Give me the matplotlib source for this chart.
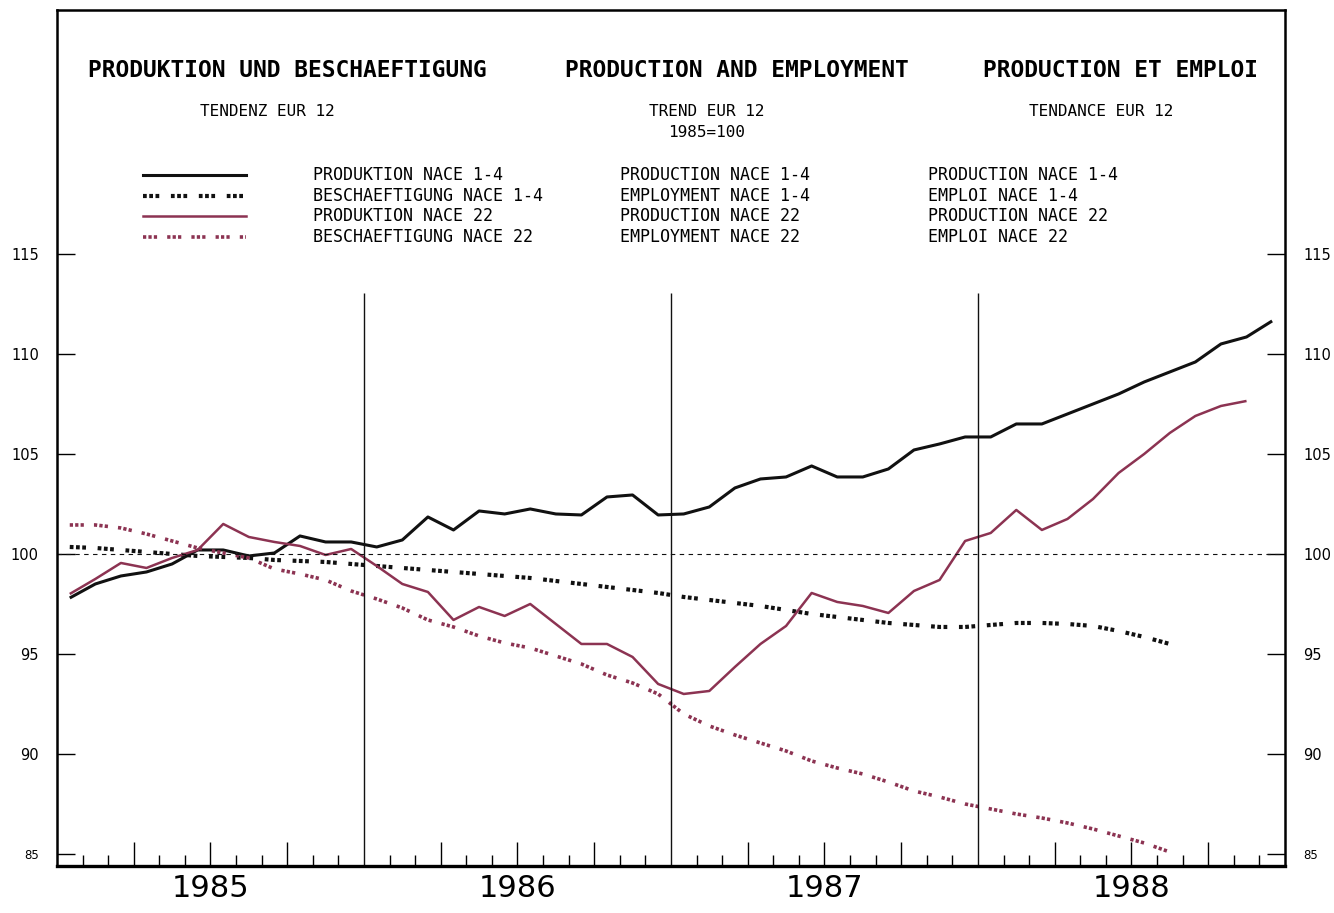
import numpy as np
import matplotlib
matplotlib.use("Agg")
import matplotlib.pyplot as plt
from matplotlib.ticker import FixedLocator

# monthly values, Jan 1985 onwards (1985=100)
prod_14 = [97.8, 98.5, 98.9, 99.1, 99.5, 100.2, 100.2, 99.9, 100.05, 100.9, 100.6, 100.6,
           100.35, 100.7, 101.85, 101.2, 102.15, 102.0, 102.25, 102.0, 101.95, 102.85, 102.95, 101.95,
           102.0, 102.35, 103.3, 103.75, 103.85, 104.4, 103.85, 103.85, 104.25, 105.2, 105.5, 105.85,
           105.85, 106.5, 106.5, 107.0, 107.5, 108.0, 108.6, 109.1, 109.6, 110.5, 110.85, 111.65]
empl_14 = [100.35, 100.3, 100.2, 100.1, 100.0, 99.9, 99.85, 99.8, 99.7, 99.65, 99.6, 99.5,
           99.4, 99.3, 99.2, 99.1, 99.0, 98.9, 98.8, 98.65, 98.5, 98.35, 98.2, 98.05,
           97.85, 97.7, 97.55, 97.4, 97.2, 97.0, 96.85, 96.7, 96.55, 96.45, 96.35, 96.35,
           96.45, 96.55, 96.55, 96.5, 96.4, 96.15, 95.85, 95.5]
prod_22 = [98.0, 98.75, 99.55, 99.3, 99.8, 100.2, 101.5, 100.85, 100.6, 100.4, 99.95, 100.25,
           99.4, 98.5, 98.1, 96.7, 97.35, 96.9, 97.5, 96.5, 95.5, 95.5, 94.85, 93.5,
           93.0, 93.15, 94.35, 95.5, 96.4, 98.05, 97.6, 97.4, 97.05, 98.15, 98.7, 100.65,
           101.05, 102.2, 101.2, 101.75, 102.75, 104.05, 105.0, 106.05, 106.9, 107.4, 107.65]
empl_22 = [101.45, 101.45, 101.3, 101.0, 100.65, 100.3, 100.05, 99.8, 99.25, 99.0, 98.7, 98.15,
           97.75, 97.3, 96.7, 96.35, 95.9, 95.55, 95.3, 94.9, 94.5, 93.95, 93.55, 93.0,
           92.0, 91.4, 90.95, 90.55, 90.15, 89.65, 89.3, 89.0, 88.6, 88.15, 87.85, 87.5,
           87.25, 87.0, 86.8, 86.55, 86.25, 85.9, 85.55, 85.1]

years = ["1985", "1986", "1987", "1988"]
yticks = [85, 90, 95, 100, 105, 110, 115]

titles = ["PRODUKTION UND BESCHAEFTIGUNG", "PRODUCTION AND EMPLOYMENT", "PRODUCTION ET EMPLOI"]
subtitles = ["TENDENZ EUR 12", "TREND EUR 12\n1985=100", "TENDANCE EUR 12"]
legend_de = ["PRODUKTION NACE 1-4", "BESCHAEFTIGUNG NACE 1-4", "PRODUKTION NACE 22", "BESCHAEFTIGUNG NACE 22"]
legend_en = ["PRODUCTION NACE 1-4", "EMPLOYMENT NACE 1-4", "PRODUCTION NACE 22", "EMPLOYMENT NACE 22"]
legend_fr = ["PRODUCTION NACE 1-4", "EMPLOI NACE 1-4", "PRODUCTION NACE 22", "EMPLOI NACE 22"]

black = "#111111"
crimson = "#8c3352"
dotted = (0, (0.9, 0.6, 0.9, 0.6, 0.9, 2.8))

fig = plt.figure(figsize=(13.34, 9.13), dpi=100)
ax = fig.add_axes([0.0427, 0.0515, 0.9205, 0.9376])

styles = [
    (prod_14, dict(color=black, lw=2.2, ls="-")),
    (empl_14, dict(color=black, lw=3.0, ls=dotted)),
    (prod_22, dict(color=crimson, lw=1.8, ls="-")),
    (empl_22, dict(color=crimson, lw=2.6, ls=dotted)),
]
for vals, st in styles:
    x = np.arange(len(vals)) + 0.5
    ax.plot(x, vals, solid_capstyle="butt", **st)

nmonths = 12 * len(years)
ax.set_xlim(0, nmonths)
ax.set_ylim(84.4, 127.2)

# reference line and year separators
ax.axhline(100, color=black, lw=0.8, ls=(0, (4, 4)))
for k in range(1, len(years)):
    ax.vlines(12 * k, 84.4, 113.05, color=black, lw=1.0)

# x ticks: quarters long, months short, years under mid-year
quarters = [m for m in range(1, nmonths) if m % 3 == 0 and m % 12 != 0]
months = [m for m in range(1, nmonths) if m % 3 != 0]
ax.xaxis.set_major_locator(FixedLocator(quarters))
ax.xaxis.set_minor_locator(FixedLocator(months))
ax.set_xticklabels([years[m // 12] if m % 12 == 6 else "" for m in quarters])
ax.tick_params(axis="x", which="major", direction="in", length=17, width=1, labelsize=22, pad=6)
ax.tick_params(axis="x", which="minor", direction="in", length=8, width=1)

ax.set_yticks(yticks)
ax.set_yticklabels([str(v) for v in yticks])
ax.tick_params(axis="y", direction="in", length=13, width=1, labelsize=10.5,
               left=True, right=True, labelleft=True, labelright=True, pad=13)
for t in ax.yaxis.get_major_ticks():
    if t.get_loc() == 85:
        t.label1.set_fontsize(8.5)
        t.label2.set_fontsize(8.5)

for side in ["left", "right", "top"]:
    ax.spines[side].set_linewidth(1.8)
ax.spines["bottom"].set_linewidth(2.4)

mono = "DejaVu Sans Mono"
for txt, xc in zip(titles, [0.188, 0.554, 0.866]):
    ax.text(xc, 0.929, txt, transform=ax.transAxes, ha="center", va="center",
            family=mono, fontsize=16.5, fontweight="bold")
for txt, xc in zip(subtitles, [0.171, 0.529, 0.850]):
    ax.text(xc, 0.890, txt, transform=ax.transAxes, ha="center", va="top",
            family=mono, fontsize=11.5, linespacing=1.5)

rows = [0.807, 0.783, 0.759, 0.735]
for (vals, st), yr, de, en, fr in zip(styles, rows, legend_de, legend_en, legend_fr):
    ax.plot([0.070, 0.154], [yr, yr], transform=ax.transAxes, **st)
    for txt, xc in zip([de, en, fr], [0.2085, 0.4585, 0.709]):
        ax.text(xc, yr, txt, transform=ax.transAxes, ha="left", va="center",
                family=mono, fontsize=12)

fig.savefig("out.png", dpi=100)
